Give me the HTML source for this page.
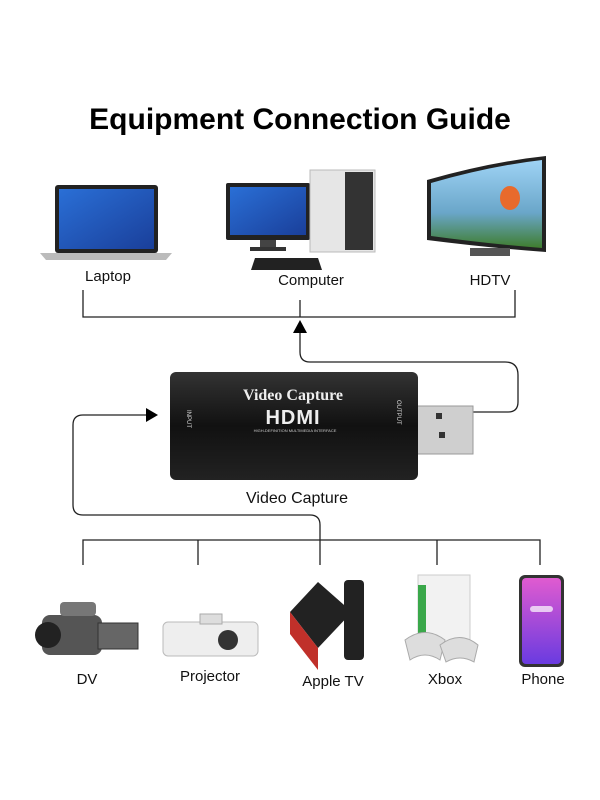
<!DOCTYPE html>
<html><head><style>
body{margin:0;width:600px;height:800px;background:#fff;position:relative;overflow:hidden;font-family:"Liberation Sans",sans-serif}
.t{position:absolute;font-size:15px;color:#111;transform:translateX(-50%);white-space:nowrap}
</style></head><body>
<div style="position:absolute;top:103px;left:0;width:600px;text-align:center;font-weight:bold;font-size:30px;color:#000">Equipment Connection Guide</div>
<svg width="600" height="800" style="position:absolute;left:0;top:0">
<defs>
<linearGradient id="scr" x1="0" y1="0" x2="1" y2="1"><stop offset="0" stop-color="#2a6fd6"/><stop offset="1" stop-color="#1a3f9a"/></linearGradient>
<linearGradient id="tv" x1="0" y1="0" x2="0" y2="1"><stop offset="0" stop-color="#9fd3f5"/><stop offset="0.6" stop-color="#6aa6c9"/><stop offset="1" stop-color="#3f7d2e"/></linearGradient>
<linearGradient id="ph" x1="0" y1="0" x2="0" y2="1"><stop offset="0" stop-color="#e05bd0"/><stop offset="1" stop-color="#6a3be0"/></linearGradient>
<linearGradient id="cap" x1="0" y1="0" x2="0" y2="1"><stop offset="0" stop-color="#333"/><stop offset="0.5" stop-color="#111"/><stop offset="1" stop-color="#222"/></linearGradient>
</defs>
<rect x="55" y="185" width="103" height="68" rx="3" fill="#222"/>
<rect x="59" y="189" width="95" height="60" fill="url(#scr)"/>
<path d="M40 253 H172 L166 260 H46 Z" fill="#bbb"/>
<rect x="226" y="183" width="84" height="57" rx="2" fill="#222"/>
<rect x="230" y="187" width="76" height="48" fill="url(#scr)"/>
<rect x="260" y="240" width="16" height="8" fill="#444"/>
<rect x="250" y="247" width="36" height="4" fill="#333"/>
<path d="M255 258 H318 L322 270 H251 Z" fill="#222"/>
<rect x="310" y="170" width="65" height="82" fill="#e6e6e6" stroke="#bbb"/>
<rect x="345" y="172" width="28" height="78" fill="#333"/>
<path d="M427 180 Q490 162 546 156 V252 Q490 248 427 240 Z" fill="#222"/>
<path d="M431 183 Q490 166 542 160 V248 Q490 244 431 236 Z" fill="url(#tv)"/>
<ellipse cx="510" cy="198" rx="10" ry="12" fill="#e86a2c"/>
<rect x="470" y="248" width="40" height="8" fill="#555"/>
<g stroke="#222" stroke-width="1.3" fill="none">
<path d="M83 290 V317 H515 V290"/><path d="M300 300 V317"/>
<path d="M300 332 V352 Q300 362 310 362 H505 Q518 362 518 375 V402 Q518 412 508 412 H473"/>
<path d="M148 415 H83 Q73 415 73 425 V505 Q73 515 83 515 H310 Q320 515 320 525 V540"/>
<path d="M83 565 V540 H540 V565"/><path d="M198 540 V565"/><path d="M320 540 V565"/><path d="M437 540 V565"/>
</g>
<path d="M300 320 L293 333 H307 Z" fill="#000"/>
<path d="M158 415 L146 408 V422 Z" fill="#000"/>
<rect x="415" y="406" width="58" height="48" fill="#cfcfcf" stroke="#999"/>
<rect x="436" y="413" width="6" height="6" fill="#333"/><rect x="439" y="432" width="6" height="6" fill="#333"/>
<rect x="170" y="372" width="248" height="108" rx="6" fill="url(#cap)"/>
<text x="293" y="400" font-family="Liberation Serif,serif" font-weight="bold" font-size="16" fill="#eee" text-anchor="middle">Video Capture</text>
<text x="293" y="424" font-family="Liberation Sans,sans-serif" font-weight="bold" font-size="20" fill="#eee" text-anchor="middle" letter-spacing="1">HDMI</text>
<text x="295" y="432" font-size="4" fill="#ccc" text-anchor="middle">HIGH-DEFINITION MULTIMEDIA INTERFACE</text>
<text x="187" y="410" font-size="6" fill="#ddd" transform="rotate(90 187 410)">INPUT</text>
<text x="397" y="400" font-size="6" fill="#ddd" transform="rotate(90 397 400)">OUTPUT</text>
<rect x="42" y="615" width="60" height="40" rx="8" fill="#555"/>
<rect x="98" y="623" width="40" height="26" fill="#666" stroke="#333"/>
<circle cx="48" cy="635" r="13" fill="#222"/>
<rect x="60" y="602" width="36" height="14" rx="4" fill="#777"/>
<rect x="163" y="622" width="95" height="34" rx="5" fill="#eee" stroke="#bbb"/>
<circle cx="228" cy="640" r="10" fill="#333"/>
<rect x="200" y="614" width="22" height="10" fill="#ddd" stroke="#aaa"/>
<path d="M290 612 L318 582 L352 612 L318 648 Z" fill="#222"/>
<path d="M290 612 L318 648 V670 L290 634 Z" fill="#c0302a"/>
<rect x="344" y="580" width="20" height="80" rx="4" fill="#222"/>
<rect x="418" y="575" width="52" height="70" fill="#f2f2f2" stroke="#ccc"/>
<rect x="418" y="585" width="8" height="55" fill="#3aa84a"/>
<path d="M405 640 Q425 625 445 640 L440 660 Q425 650 410 660 Z" fill="#ddd" stroke="#aaa"/>
<path d="M440 645 Q460 630 478 645 L474 662 Q460 654 446 662 Z" fill="#ddd" stroke="#aaa"/>
<rect x="519" y="575" width="45" height="92" rx="6" fill="#333"/>
<rect x="522" y="578" width="39" height="86" rx="4" fill="url(#ph)"/>
<rect x="530" y="606" width="23" height="6" rx="3" fill="#fff" opacity="0.7"/>
</svg>
<div class="t" style="left:108px;top:268px">Laptop</div>
<div class="t" style="left:311px;top:272px">Computer</div>
<div class="t" style="left:490px;top:272px">HDTV</div>
<div class="t" style="left:297px;top:490px;font-size:16px">Video Capture</div>
<div class="t" style="left:87px;top:671px">DV</div>
<div class="t" style="left:210px;top:668px">Projector</div>
<div class="t" style="left:333px;top:673px">Apple TV</div>
<div class="t" style="left:445px;top:671px">Xbox</div>
<div class="t" style="left:543px;top:671px">Phone</div>
</body></html>
